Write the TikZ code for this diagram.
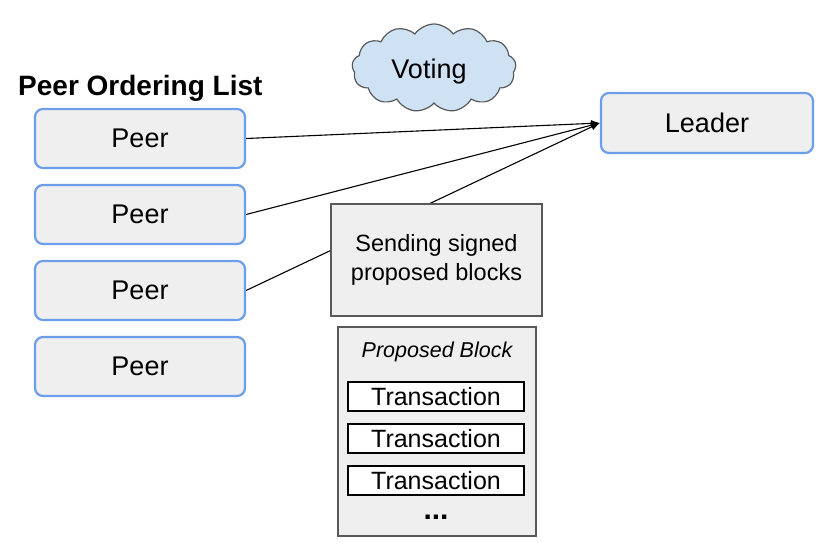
\documentclass[tikz,border=0pt]{standalone}
\usepackage{fontspec}
\setmainfont{Liberation Sans}
\usetikzlibrary{shapes.symbols,arrows.meta}
\definecolor{peerfill}{HTML}{EFEFEF}
\definecolor{peerblue}{HTML}{6D9EEB}
\definecolor{cloudfill}{HTML}{CFE2F3}
\definecolor{boxgray}{HTML}{595959}
\begin{document}
\begin{tikzpicture}[x=1pt,y=-1pt,
  peerbox/.style={draw=peerblue,line width=2.2pt,fill=peerfill,rounded corners=8pt,
    minimum width=210pt,minimum height=59pt,inner sep=0pt,
    font=\fontsize{27}{32}\selectfont},
  conn/.style={line width=1.1pt,-{Latex[length=9pt,width=7pt]}},
  graybox/.style={draw=boxgray,line width=1.3pt,fill=peerfill,inner sep=0pt},
  txbox/.style={draw=black,line width=1.1pt,fill=white,minimum width=176pt,
    minimum height=29pt,inner sep=0pt,font=\fontsize{25}{30}\selectfont}]
\useasboundingbox (0,0) rectangle (829,552);
\node[anchor=base west,inner sep=0pt,font=\bfseries\fontsize{28}{33}\selectfont] (title) at (18,95) {Peer Ordering List};
\node[peerbox] (p1) at (140,138.5) {Peer};
\node[peerbox] (p2) at (140,214.5) {Peer};
\node[peerbox] (p3) at (140,290.5) {Peer};
\node[peerbox] (p4) at (140,366.5) {Peer};
\node[peerbox,minimum width=212pt,minimum height=60pt] (leader) at (707,123) {Leader};
\node[cloud,cloud puffs=13,cloud puff arc=110,aspect=1.9,draw=boxgray,line width=1.2pt,fill=cloudfill,
  minimum width=164pt,minimum height=88pt,inner sep=0pt,font=\fontsize{27}{32}\selectfont] (voting) at (434,68) {};
\node[inner sep=0pt,font=\fontsize{27}{32}\selectfont] (vtext) at (429,72) {Voting};
\draw[conn] (p1.east) -- (leader.west);
\draw[conn] (p2.east) -- (leader.west);
\draw[conn] (p3.east) -- (leader.west);
\node[graybox,minimum width=211pt,minimum height=112pt,align=center,
  font=\fontsize{23.5}{28.5}\selectfont] (send) at (436.5,260) {Sending signed\\proposed blocks};
\node[graybox,minimum width=198pt,minimum height=209pt] (block) at (437,431.5) {};
\node[inner sep=0pt,font=\itshape\fontsize{21.5}{26}\selectfont] (blabel) at (437,352) {Proposed Block};
\node[txbox] (t1) at (436,396.5) {Transaction};
\node[txbox] (t2) at (436,438.5) {Transaction};
\node[txbox] (t3) at (436,480.5) {Transaction};
\node[inner sep=0pt,anchor=base,font=\bfseries\fontsize{30}{34}\selectfont] (dots) at (436,519) {...};
\end{tikzpicture}
\end{document}
